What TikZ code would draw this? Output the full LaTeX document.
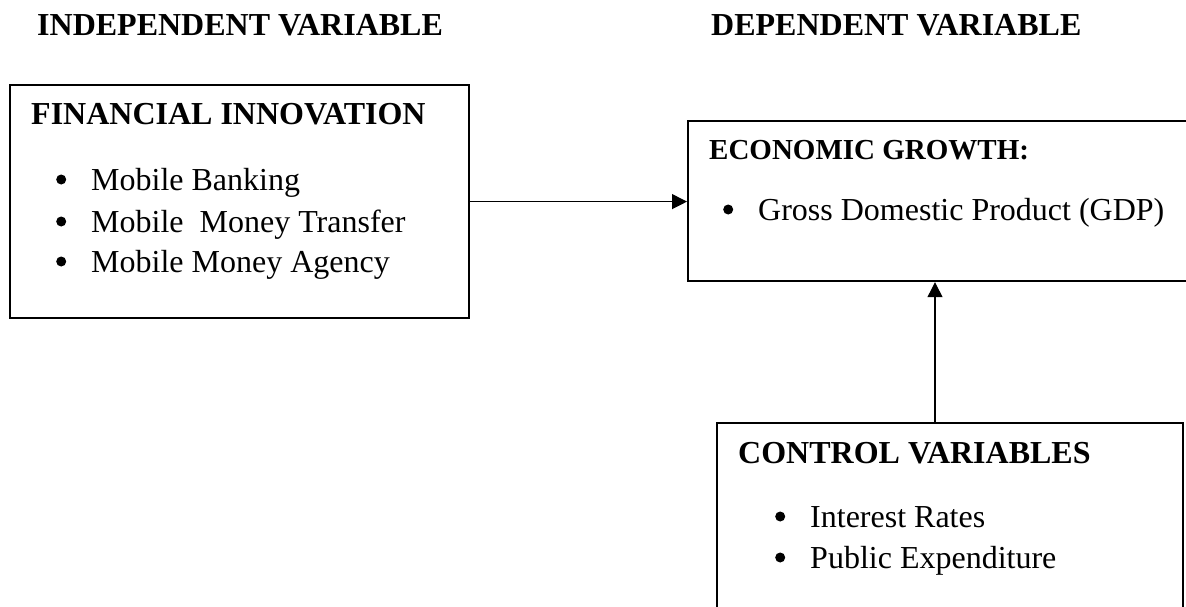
\documentclass[tikz,border=0pt]{standalone}
\usepackage{fontspec}
\setmainfont{Liberation Serif}
\usetikzlibrary{arrows.meta}
\newcommand\bulitem{\raisebox{5.5pt}{\tikz\fill (0pt,0pt) circle (5pt);}\hspace{25pt}}
\begin{document}
\begin{tikzpicture}[x=1pt,y=-1pt,
  box/.style={draw,line width=2.2pt,rectangle,inner sep=0pt,anchor=north west},
  head/.style={anchor=base west,inner sep=0pt,font=\fontsize{32}{38}\selectfont\bfseries},
  ehead/.style={anchor=base west,inner sep=0pt,font=\fontsize{29}{35}\selectfont\bfseries},
  item/.style={anchor=base west,inner sep=0pt,font=\fontsize{32}{38}\selectfont},
  conn/.style={line width=1.2pt,-{Triangle[length=15pt,width=15pt]}}]
\useasboundingbox (0,0) rectangle (1186,607);
\clip (0,0) rectangle (1186,607);
% headings
\node[head] (hind) at (37,36) {INDEPENDENT VARIABLE};
\node[head] (hdep) at (711,36) {DEPENDENT VARIABLE};
% boxes
\node[box,minimum width=459pt,minimum height=233pt] (fin) at (9,84) {};
\node[box,minimum width=560pt,minimum height=160pt] (eco) at (687,120) {};
\node[box,minimum width=466pt,minimum height=220pt] (ctrl) at (716,422) {};
% financial innovation
\node[head] (fint) at (31,125) {FINANCIAL INNOVATION};
\node[item] (f1) at (56,190) {\bulitem Mobile Banking};
\node[item] (f2) at (56,232) {\bulitem Mobile\ \ Money Transfer};
\node[item] (f3) at (56,272) {\bulitem Mobile Money Agency};
% economic growth
\node[ehead] (ecot) at (709,160) {ECONOMIC GROWTH:};
\node[item] (e1) at (723,220) {\bulitem Gross Domestic Product (GDP)};
% control variables
\node[head] (ctt) at (738,463) {CONTROL VARIABLES};
\node[item] (c1) at (775,527) {\bulitem Interest Rates};
\node[item] (c2) at (775,568) {\bulitem Public Expenditure};
% connectors
\draw[conn] (fin.east) -- (fin.east -| eco.west);
\draw[conn] (ctrl.north -| 935,0) -- (eco.south -| 935,0);
\end{tikzpicture}
\end{document}
